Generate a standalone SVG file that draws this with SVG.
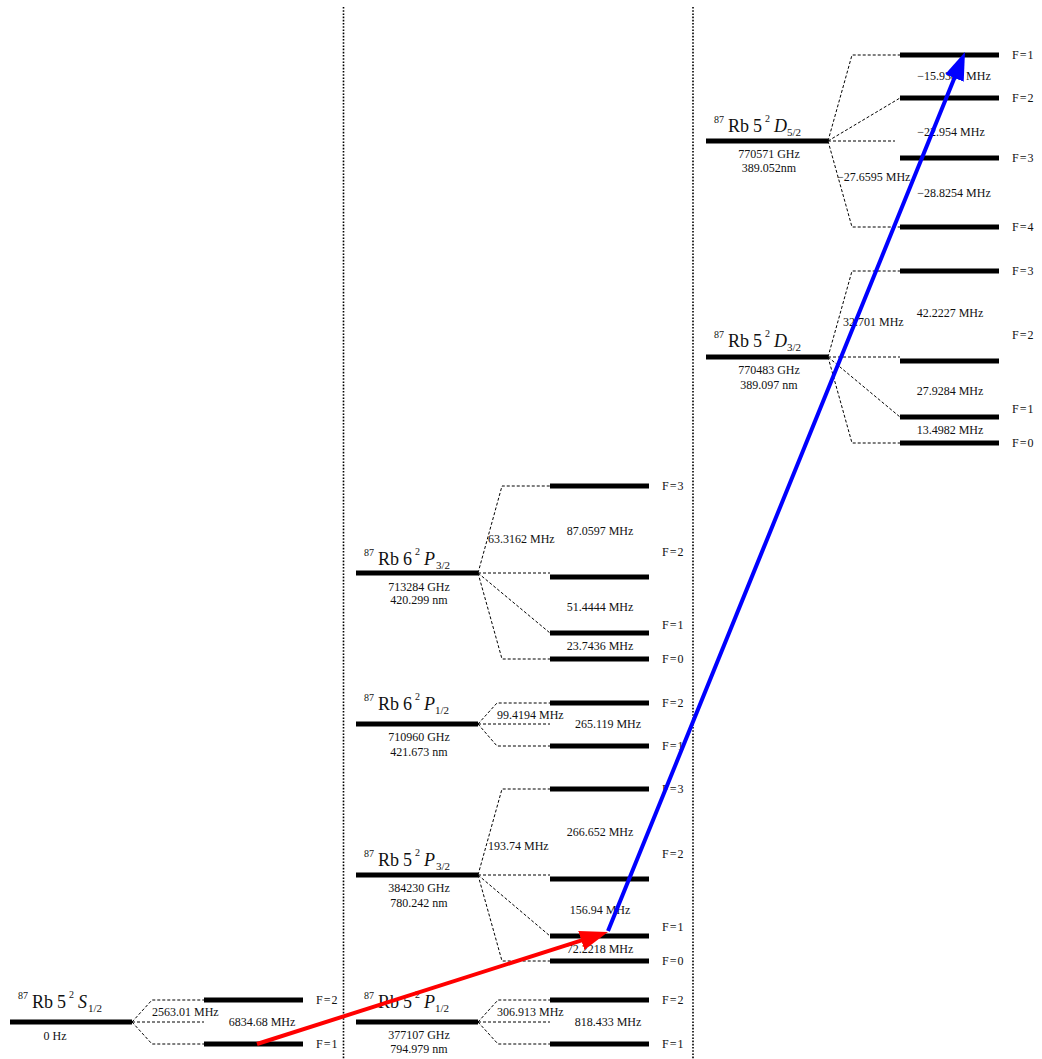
<svg xmlns="http://www.w3.org/2000/svg" width="1042" height="1059" viewBox="0 0 1042 1059">
<style>
.lvl{stroke:#000;stroke-width:5;fill:none}
.fan{stroke:#000;stroke-width:1;stroke-dasharray:3 2;fill:none}
.sep{stroke:#000;stroke-width:1.6;stroke-dasharray:1.6 1.6;fill:none}
text{font-family:"Liberation Serif","Times New Roman",serif;font-size:12px;fill:#111}
.c{text-anchor:middle}
.t{font-size:18px}
.sup{font-size:10px}
.sub{font-size:11px}
.it{font-style:italic}
</style>
<defs>
<marker id="hr" markerUnits="userSpaceOnUse" markerWidth="30" markerHeight="22" refX="2" refY="10" orient="auto"><path d="M0,0 L28,10 L0,20 z" fill="#f00"/></marker>
<marker id="hb" markerUnits="userSpaceOnUse" markerWidth="30" markerHeight="22" refX="2" refY="10" orient="auto"><path d="M0,0 L28,10 L0,20 z" fill="#00f"/></marker>
</defs>
<rect width="1042" height="1059" fill="#fff"/>
<g id="separators">
<line class="sep" x1="343.5" y1="7" x2="343.5" y2="1059"/>
<line class="sep" x1="693" y1="7" x2="693" y2="1059"/>
</g>

<g id="S12">
<line class="lvl" x1="10" y1="1022" x2="132" y2="1022"/>
<path class="fan" d="M132,1022 L152,1000 L204,1000 M132,1022 L204,1022 M132,1022 L152,1044 L204,1044"/>
<line class="lvl" x1="204" y1="1000" x2="303" y2="1000"/>
<line class="lvl" x1="204" y1="1044" x2="303" y2="1044"/>
<text x="316" y="1004" letter-spacing="1">F=2</text>
<text x="316" y="1048" letter-spacing="1">F=1</text>
<text x="152" y="1016">2563.01 MHz</text>
<text class="c" x="262" y="1026">6834.68 MHz</text>
<text class="c" x="55" y="1040">0 Hz</text>
<text class="t"><tspan class="sup" x="18" y="999">87</tspan><tspan x="32" y="1008">Rb</tspan><tspan x="57" y="1008">5</tspan><tspan class="sup" x="69" y="998">2</tspan><tspan class="it" x="78" y="1008">S</tspan><tspan class="sub" x="88" y="1012">1/2</tspan></text>
</g>

<g id="P12_5">
<line class="lvl" x1="356" y1="1022" x2="478" y2="1022"/>
<path class="fan" d="M478,1022 L498,1000 L550,1000 M478,1022 L550,1022 M478,1022 L498,1044 L550,1044"/>
<line class="lvl" x1="550" y1="1000" x2="649" y2="1000"/>
<line class="lvl" x1="550" y1="1044" x2="649" y2="1044"/>
<text x="662" y="1004" letter-spacing="1">F=2</text>
<text x="662" y="1048" letter-spacing="1">F=1</text>
<text x="497" y="1016">306.913 MHz</text>
<text class="c" x="608" y="1026">818.433 MHz</text>
<text class="c" x="419" y="1039">377107 GHz</text>
<text class="c" x="419" y="1053">794.979 nm</text>
<text class="t"><tspan class="sup" x="364" y="999">87</tspan><tspan x="378" y="1008">Rb</tspan><tspan x="403" y="1008">5</tspan><tspan class="sup" x="415" y="998">2</tspan><tspan class="it" x="424" y="1008">P</tspan><tspan class="sub" x="435" y="1012">1/2</tspan></text>
</g>

<g id="P32_5">
<line class="lvl" x1="356" y1="875" x2="478" y2="875"/>
<path class="fan" d="M478,875 L502,789 L550,789 M478,875 L550,875 M478,875 L550,936 M478,875 L502,961 L550,961"/>
<line class="lvl" x1="550" y1="789" x2="649" y2="789"/>
<line class="lvl" x1="550" y1="879" x2="649" y2="879"/>
<line class="lvl" x1="550" y1="936" x2="649" y2="936"/>
<line class="lvl" x1="550" y1="961" x2="649" y2="961"/>
<text x="662" y="793" letter-spacing="1">F=3</text>
<text x="662" y="858" letter-spacing="1">F=2</text>
<text x="662" y="931" letter-spacing="1">F=1</text>
<text x="662" y="965" letter-spacing="1">F=0</text>
<text x="488" y="850">193.74 MHz</text>
<text class="c" x="600" y="836">266.652 MHz</text>
<text class="c" x="600" y="914">156.94 MHz</text>
<text class="c" x="600" y="953">72.2218 MHz</text>
<text class="c" x="419" y="892">384230 GHz</text>
<text class="c" x="419" y="907">780.242 nm</text>
<text class="t"><tspan class="sup" x="364" y="857">87</tspan><tspan x="378" y="866">Rb</tspan><tspan x="403" y="866">5</tspan><tspan class="sup" x="415" y="856">2</tspan><tspan class="it" x="424" y="866">P</tspan><tspan class="sub" x="436" y="870">3/2</tspan></text>
</g>

<g id="P12_6">
<line class="lvl" x1="356" y1="724" x2="478" y2="724"/>
<path class="fan" d="M478,724 L497,703 L550,703 M478,724 L550,724 M478,724 L497,746 L550,746"/>
<line class="lvl" x1="550" y1="703" x2="649" y2="703"/>
<line class="lvl" x1="550" y1="746" x2="649" y2="746"/>
<text x="662" y="707" letter-spacing="1">F=2</text>
<text x="662" y="750" letter-spacing="1">F=1</text>
<text x="497" y="719">99.4194 MHz</text>
<text class="c" x="608" y="728">265.119 MHz</text>
<text class="c" x="419" y="741">710960 GHz</text>
<text class="c" x="419" y="756">421.673 nm</text>
<text class="t"><tspan class="sup" x="364" y="701">87</tspan><tspan x="378" y="710">Rb</tspan><tspan x="403" y="710">6</tspan><tspan class="sup" x="415" y="700">2</tspan><tspan class="it" x="424" y="710">P</tspan><tspan class="sub" x="435" y="714">1/2</tspan></text>
</g>

<g id="P32_6">
<line class="lvl" x1="356" y1="573" x2="478" y2="573"/>
<path class="fan" d="M478,573 L502,486 L550,486 M478,573 L550,573 M478,573 L550,633 M478,573 L502,659 L550,659"/>
<line class="lvl" x1="550" y1="486" x2="649" y2="486"/>
<line class="lvl" x1="550" y1="577" x2="649" y2="577"/>
<line class="lvl" x1="550" y1="633" x2="649" y2="633"/>
<line class="lvl" x1="550" y1="659" x2="649" y2="659"/>
<text x="662" y="490" letter-spacing="1">F=3</text>
<text x="662" y="556" letter-spacing="1">F=2</text>
<text x="662" y="629" letter-spacing="1">F=1</text>
<text x="662" y="663" letter-spacing="1">F=0</text>
<text x="488" y="543">63.3162 MHz</text>
<text class="c" x="600" y="535">87.0597 MHz</text>
<text class="c" x="600" y="611">51.4444 MHz</text>
<text class="c" x="600" y="650">23.7436 MHz</text>
<text class="c" x="419" y="591">713284 GHz</text>
<text class="c" x="419" y="604">420.299 nm</text>
<text class="t"><tspan class="sup" x="364" y="556">87</tspan><tspan x="378" y="565">Rb</tspan><tspan x="403" y="565">6</tspan><tspan class="sup" x="415" y="555">2</tspan><tspan class="it" x="424" y="565">P</tspan><tspan class="sub" x="436" y="569">3/2</tspan></text>
</g>

<g id="D32">
<line class="lvl" x1="706" y1="357" x2="828" y2="357"/>
<path class="fan" d="M828,357 L852,271 L900,271 M828,357 L900,357 M828,357 L900,417 M828,357 L852,443 L900,443"/>
<line class="lvl" x1="900" y1="271" x2="999" y2="271"/>
<line class="lvl" x1="900" y1="361" x2="999" y2="361"/>
<line class="lvl" x1="900" y1="417" x2="999" y2="417"/>
<line class="lvl" x1="900" y1="443" x2="999" y2="443"/>
<text x="1012" y="275" letter-spacing="1">F=3</text>
<text x="1012" y="339" letter-spacing="1">F=2</text>
<text x="1012" y="413" letter-spacing="1">F=1</text>
<text x="1012" y="447" letter-spacing="1">F=0</text>
<text x="843" y="326">32.701 MHz</text>
<text class="c" x="950" y="317">42.2227 MHz</text>
<text class="c" x="950" y="395">27.9284 MHz</text>
<text class="c" x="950" y="434">13.4982 MHz</text>
<text class="c" x="769" y="374">770483 GHz</text>
<text class="c" x="769" y="389">389.097 nm</text>
<text class="t"><tspan class="sup" x="714" y="338">87</tspan><tspan x="728" y="347">Rb</tspan><tspan x="753" y="347">5</tspan><tspan class="sup" x="765" y="337">2</tspan><tspan class="it" x="774" y="347">D</tspan><tspan class="sub" x="787" y="351">3/2</tspan></text>
</g>

<g id="D52">
<line class="lvl" x1="706" y1="141" x2="828" y2="141"/>
<path class="fan" d="M828,141 L852,55 L900,55 M828,141 L900,98 M828,141 L895,141 M828,141 L852,227 L900,227"/>
<line class="lvl" x1="900" y1="55" x2="999" y2="55"/>
<line class="lvl" x1="900" y1="98" x2="999" y2="98"/>
<line class="lvl" x1="900" y1="158" x2="999" y2="158"/>
<line class="lvl" x1="900" y1="227" x2="999" y2="227"/>
<text x="1012" y="59" letter-spacing="1">F=1</text>
<text x="1012" y="102" letter-spacing="1">F=2</text>
<text x="1012" y="162" letter-spacing="1">F=3</text>
<text x="1012" y="231" letter-spacing="1">F=4</text>
<text class="c" x="954" y="80">−15.9384 MHz</text>
<text class="c" x="951" y="136">−22.954 MHz</text>
<text class="c" x="954" y="197">−28.8254 MHz</text>
<text x="837" y="181">−27.6595 MHz</text>
<text class="c" x="769" y="158">770571 GHz</text>
<text class="c" x="769" y="172">389.052nm</text>
<text class="t"><tspan class="sup" x="714" y="123">87</tspan><tspan x="728" y="132">Rb</tspan><tspan x="753" y="132">5</tspan><tspan class="sup" x="765" y="122">2</tspan><tspan class="it" x="774" y="132">D</tspan><tspan class="sub" x="787" y="136">5/2</tspan></text>
</g>

<g id="connectors">
<line x1="257" y1="1044" x2="583.2" y2="939.9" stroke="#f00" stroke-width="4" marker-end="url(#hr)"/>
<line x1="608" y1="931" x2="955.2" y2="76.1" stroke="#00f" stroke-width="4" marker-end="url(#hb)"/>
</g>
</svg>
